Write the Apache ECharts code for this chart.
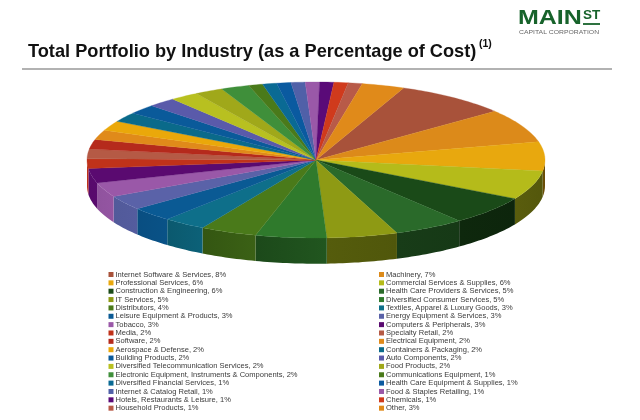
<!DOCTYPE html>
<html><head><meta charset="utf-8">
<style>html,body{margin:0;padding:0;background:#fff}#c{width:640px;height:420px}</style>
<script src="https://cdn.jsdelivr.net/npm/echarts@6/dist/echarts.min.js"></script>
</head><body><div id="c"></div>
<script>
const categories = ["Internet Software & Services","Machinery","Professional Services","Commercial Services & Supplies","Construction & Engineering","Health Care Providers & Services","IT Services","Diversified Consumer Services","Distributors","Textiles, Apparel & Luxury Goods","Leisure Equipment & Products","Energy Equipment & Services","Tobacco","Computers & Peripherals","Media","Specialty Retail","Software","Electrical Equipment","Aerospace & Defense","Containers & Packaging","Building Products","Auto Components","Diversified Telecommunication Services","Food Products","Electronic Equipment, Instruments & Components","Communications Equipment","Diversified Financial Services","Health Care Equipment & Supplies","Internet & Catalog Retail","Food & Staples Retailing","Hotels, Restaurants & Leisure","Chemicals","Household Products","Other"];
const values = [8,7,6,6,6,5,5,5,4,3,3,3,3,3,2,2,2,2,2,2,2,2,2,2,2,1,1,1,1,1,1,1,1,3];
const colors = ["#a8523a","#dc8a1a","#e8a80e","#b5bb1a","#1a4a18","#2a6a2a","#8e9a14","#2f7a2c","#4a7a1a","#0e6f8a","#0a5a94","#5a62a8","#9a58a8","#5a0a70","#c0321a","#b55a45","#b52a1c","#e08a1a","#eaa80a","#0a6a8a","#0a5a9a","#5a5aaa","#b8c020","#a0a81a","#3f8f3a","#4a7a1a","#0a6a94","#0a5aa0","#5060a8","#9a58a8","#5a0a78","#d03a1c","#b85a48","#e08a1a"];
const startDeg = 22.5, depth = 0.33;
const total = values.reduce((a,b)=>a+b,0);
const cum = []; values.reduce((a,v,i)=>(cum[i]=a,a+v),0);
const names = categories.map((c,i)=>c+", "+values[i]+"%");
const shade = (hex,f)=>{const n=parseInt(hex.slice(1),16);return "rgb("+[n>>16,(n>>8)&255,n&255].map(v=>Math.min(255,Math.round(v*f))).join(",")+")";};
const wallF = d=>{const p=[[90,.45],[180,.6],[225,.9],[270,1]];for(let i=1;i<p.length;i++)if(d<=p[i][0]){const k=(d-p[i-1][0])/(p[i][0]-p[i-1][0]);return p[i-1][1]+k*(p[i][1]-p[i-1][1]);}return 1;};
const renderItem=(params,api)=>{
  const i=params.dataIndex;
  const a0=startDeg+cum[i]/total*360,a1=a0+values[i]/total*360;
  const pt=(d,off)=>api.coord([Math.sin(d*Math.PI/180),Math.cos(d*Math.PI/180)-(off||0)]);
  const top=[api.coord([0,0])];
  for(let d=a0;d<a1;d+=1)top.push(pt(d));top.push(pt(a1));
  const w0=Math.max(a0,90),w1=Math.min(a1,270);
  const shapes=[];
  if(w1>w0){
    const rim=[];for(let d=w0;d<w1;d+=1)rim.push(d);rim.push(w1);
    const pts=rim.map(d=>pt(d)).concat(rim.slice().reverse().map(d=>pt(d,depth)));
    shapes.push({type:'polygon',shape:{points:pts},style:{fill:new echarts.graphic.LinearGradient(0,0,1,0,[{offset:0,color:shade(colors[i],wallF(w1>180?w0:w1))},{offset:1,color:shade(colors[i],wallF(w1>180?w1:w0))}])}});
  }
  const c=colors[i];
  shapes.push({type:'polygon',shape:{points:top},style:{fill:c,stroke:c,lineWidth:.3}});
  return {type:'group',children:shapes};
};
const chart=echarts.init(document.getElementById('c'),null,{renderer:'canvas'});
const legendBase={orient:'vertical',top:270.5,padding:0,itemWidth:5,itemHeight:5,itemGap:0.355,icon:'rect',selectedMode:false,
  textStyle:{fontFamily:'Liberation Sans',fontSize:7.55,color:'#3a3a3a',padding:[0,0,0,-3]}};
const logoGreen='#17632b';
chart.setOption({
  animation:false,backgroundColor:'#fff',
  color:colors,
  title:[
    {text:'Total Portfolio by Industry (as a Percentage of Cost)',left:23,top:38,textStyle:{fontFamily:'Liberation Sans',fontWeight:'bold',fontSize:18.2,color:'#111'}},
    {text:'(1)',left:474,top:34,textStyle:{fontFamily:'Liberation Sans',fontWeight:'bold',fontSize:10.5,color:'#111'}}
  ],
  graphic:[
    {type:'text',x:518,y:18,scaleX:1.19,style:{text:'MAIN',fontFamily:'Liberation Sans',fontWeight:'bold',fontSize:21,fill:logoGreen,verticalAlign:'middle'}},
    {type:'text',x:583,y:15.5,style:{text:'ST',fontFamily:'Liberation Sans',fontWeight:'bold',fontSize:13.5,fill:logoGreen,verticalAlign:'middle'}},
    {type:'text',x:519,y:32,scaleX:1.24,style:{text:'CAPITAL CORPORATION',fontFamily:'Liberation Sans',fontSize:5.5,fill:'#666',verticalAlign:'middle'}},
    {type:'line',shape:{x1:22,y1:69,x2:612,y2:69},style:{stroke:'#999',lineWidth:1.5}},
    {type:'line',shape:{x1:583,y1:24,x2:600,y2:24},style:{stroke:logoGreen,lineWidth:1.8}}
  ],
  legend:[
    Object.assign({},legendBase,{left:108.5,height:150,data:names.filter((_,i)=>i%2===0)}),
    Object.assign({},legendBase,{left:379,height:150,data:names.filter((_,i)=>i%2===1)})
  ],
  grid:{left:87,width:458,top:82,height:156},
  xAxis:{type:'value',min:-1,max:1,show:false},
  yAxis:{type:'value',min:-1,max:1,show:false},
  series:[
    {type:'custom',renderItem,silent:true,coordinateSystem:'cartesian2d',clip:false,data:names.map((n,i)=>({name:n,value:[0,0,values[i]]}))},
    {type:'pie',silent:true,radius:[0,0],label:{show:false},labelLine:{show:false},data:names.map((n,i)=>({name:n,value:values[i]}))}
  ]
});
</script></body></html>
